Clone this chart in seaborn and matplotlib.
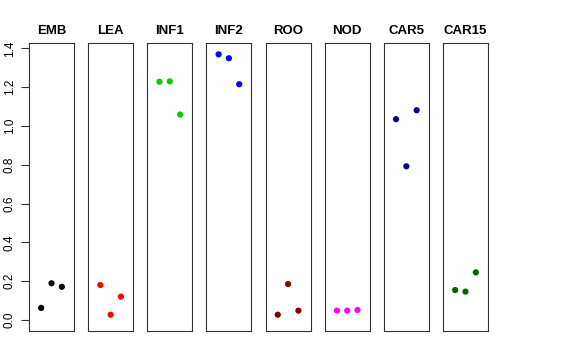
import pandas as pd
import matplotlib
matplotlib.use("Agg")
import matplotlib.pyplot as plt
import seaborn as sns

sns.set_style("white")
plt.rcParams['font.family'] = ['Liberation Sans', 'DejaVu Sans']
plt.rcParams['text.color'] = 'black'
plt.rcParams['ytick.color'] = 'black'
plt.rcParams['axes.labelcolor'] = 'black'

# tissues and their three replicate values
tissues = ['EMB', 'LEA', 'INF1', 'INF2', 'ROO', 'NOD', 'CAR5', 'CAR15']
emb = [0.062, 0.189, 0.171]
lea = [0.180, 0.027, 0.120]
inf1 = [1.228, 1.230, 1.059]
inf2 = [1.369, 1.349, 1.215]
roo = [0.027, 0.185, 0.048]
nod = [0.048, 0.048, 0.051]
car5 = [1.035, 0.792, 1.081]
car15 = [0.154, 0.146, 0.245]
replicate = [1, 2, 3]
colors = ['black', 'red', '#00CD00', 'blue', '#8B0000', 'magenta', '#00008B', '#006400']
yticks = [0.0, 0.2, 0.4, 0.6, 0.8, 1.0, 1.2, 1.4]

values = [emb, lea, inf1, inf2, roo, nod, car5, car15]
rows = []
for t, v in zip(tissues, values):
    for r, y in zip(replicate, v):
        rows.append({'tissue': t, 'rep': r, 'value': y})
df = pd.DataFrame(rows)

fig, axes = plt.subplots(1, 8, figsize=(5.76, 3.6), dpi=100, sharey=True)
fig.subplots_adjust(left=29/576, right=488/576, bottom=29/360, top=316.7/360, wspace=0.314)

for i, (ax, t) in enumerate(zip(axes, tissues)):
    sub = df[df['tissue'] == t]
    sns.scatterplot(data=sub, x='rep', y='value', color=colors[i], s=20,
                    edgecolor='none', ax=ax, legend=False)
    ax.set_xlim(-0.18, 4.18)
    ax.set_ylim(-0.057, 1.426)
    ax.set_xticks([])
    ax.set_xlabel('')
    ax.set_ylabel('')
    ax.set_title(t, fontweight='bold', fontsize=9.5, pad=7, color='black')
    for sp in ax.spines.values():
        sp.set_visible(True)
        sp.set_color('#333333')
        sp.set_linewidth(0.8)
    if i == 0:
        ax.set_yticks(yticks)
        ax.set_yticklabels([f'{v:.1f}' for v in yticks], rotation=90, va='center', fontsize=8.5)
        ax.tick_params(axis='y', left=True, length=5.5, width=0.8, pad=4, color='#333333',
                       labelcolor='black')
    else:
        ax.tick_params(axis='y', left=False, labelleft=False)

fig.savefig('out.png', dpi=100)
